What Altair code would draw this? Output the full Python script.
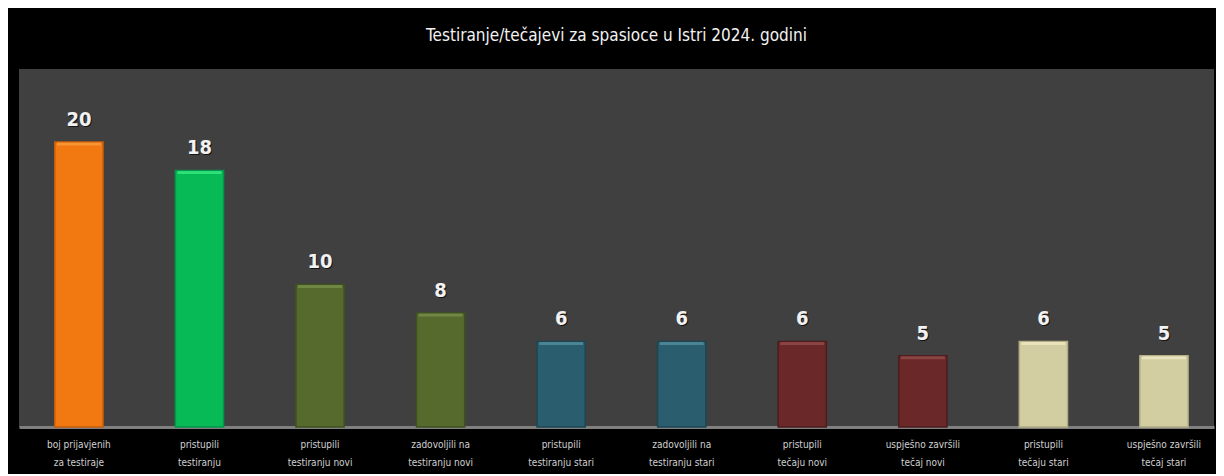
import altair as alt
import pandas as pd

categories = [
    "boj prijavjenih|za testiraje",
    "pristupili|testiranju",
    "pristupili|testiranju novi",
    "zadovoljili na|testiranju novi",
    "pristupili|testiranju stari",
    "zadovoljili na|testiranju stari",
    "pristupili|tečaju novi",
    "uspješno završili|tečaj novi",
    "pristupili|tečaju stari",
    "uspješno završili|tečaj stari",
]
values = [20, 18, 10, 8, 6, 6, 6, 5, 6, 5]
fill_colors = ["#F27812", "#07BA55", "#556A2C", "#556A2C", "#2A5E6E",
               "#2A5E6E", "#6A2828", "#6A2828", "#D3CDA2", "#D3CDA2"]
edge_colors = ["#C85E08", "#05954A", "#3F5120", "#3F5120", "#1E4652",
               "#1E4652", "#4E1C1C", "#4E1C1C", "#B3AD85", "#B3AD85"]
top_colors = ["#FFA040", "#3FF08A", "#7C9450", "#7C9450", "#5A95A5",
              "#5A95A5", "#9A5050", "#9A5050", "#F2EDC8", "#F2EDC8"]

title_text = "Testiranje/tečajevi za spasioce u Istri 2024. godini"

df = pd.DataFrame({
    "cat": categories,
    "value": values,
    "fill": fill_colors,
    "edge": edge_colors,
    "top": top_colors,
})

narrow = "Liberation Sans Narrow, DejaVu Sans Condensed, sans-serif"

x = alt.X(
    "cat:N",
    sort=None,
    title=None,
    scale=alt.Scale(paddingInner=0.6, paddingOuter=0.256, align=0.58),
    axis=alt.Axis(
        labelAngle=0,
        labelExpr="split(datum.label, '|')",
        labelColor="#D0D0D0",
        labelFont=narrow,
        labelFontSize=10,
        labelLineHeight=18,
        labelPadding=12,
        ticks=False,
        domainColor="#808080",
        domainWidth=3,
        grid=False,
    ),
)
y = alt.Y("value:Q", title=None,
          scale=alt.Scale(domain=[0, 25.12], nice=False, zero=True),
          axis=None)

base = alt.Chart(df)

bars = base.mark_bar(strokeWidth=1.5).encode(
    x=x, y=y,
    fill=alt.Color("fill:N", scale=None),
    stroke=alt.Color("edge:N", scale=None),
)

tops = base.mark_tick(thickness=3, size=44, yOffset=2).encode(
    x=x, y=y,
    color=alt.Color("top:N", scale=None),
)

shadow = base.mark_text(
    font=narrow, fontSize=20, fontWeight="bold", color="#000000",
    opacity=0.7, baseline="bottom", dy=-11, dx=1,
).encode(x=x, y=y, text="value:Q")

labels = base.mark_text(
    font=narrow, fontSize=20, fontWeight="bold", color="#F2F2F2",
    baseline="bottom", dy=-12,
).encode(x=x, y=y, text="value:Q")

chart = alt.layer(bars, tops, shadow, labels).properties(
    width=1195,
    height=358,
    title=alt.TitleParams(
        text=title_text,
        font=narrow,
        fontSize=17,
        fontWeight="normal",
        color="#F2F2F2",
        anchor="middle",
        baseline="bottom",
        offset=7,
    ),
    autosize=alt.AutoSizeParams(type="none"),
    padding={"left": 11, "top": 61, "right": 2, "bottom": 47},
    background="#000000",
).configure_view(
    fill="#404040",
    stroke=None,
)

chart.save("out.html", embed_options={"renderer": "svg", "actions": False})
